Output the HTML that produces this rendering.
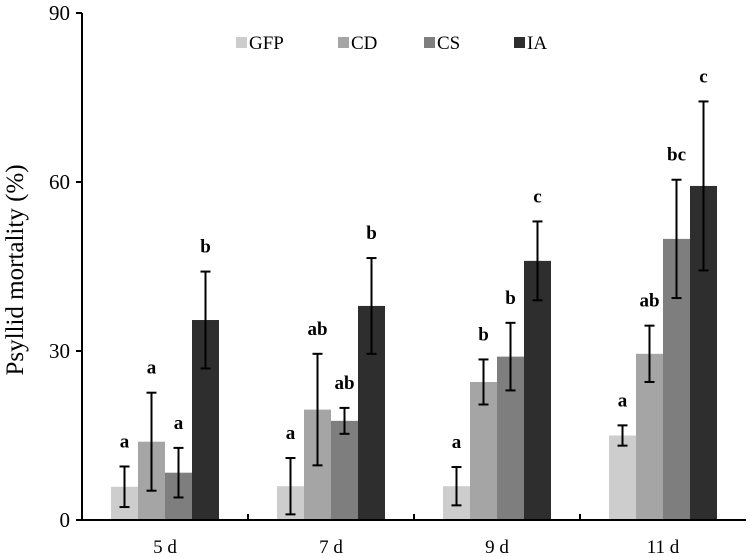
<!DOCTYPE html>
<html><head><meta charset="utf-8"><style>
html,body{margin:0;padding:0;background:#fff;width:750px;height:557px;overflow:hidden}
svg text{font-family:"Liberation Serif",serif;fill:#000}
</style></head><body>
<svg id="chart" width="750" height="557"></svg>
<script>
const categories = ["5 d","7 d","9 d","11 d"];
const seriesNames = ["GFP","CD","CS","IA"];
const seriesColors = ["#cdcdcd","#a5a5a5","#7e7e7e","#2e2e2e"];
const gfp = [5.9, 6.0, 6.0, 15.0];
const cd = [13.9, 19.6, 24.5, 29.5];
const cs = [8.4, 17.6, 29.0, 49.9];
const ia = [35.5, 38.0, 46.0, 59.3];
const errGfp = [3.6, 5.0, 3.4, 1.8];
const errCd = [8.7, 9.9, 4.0, 5.0];
const errCs = [4.4, 2.3, 6.0, 10.5];
const errIa = [8.6, 8.5, 7.0, 15.0];
const lblGfp = ["a","a","a","a"];
const lblCd = ["a","ab","b","ab"];
const lblCs = ["a","ab","b","bc"];
const lblIa = ["b","b","c","c"];
const yTicks = [0,30,60,90];

const NS="http://www.w3.org/2000/svg";
const svg=document.getElementById('chart');
const x0=82,x1=746,y0=520,yTop=13,yMax=90;
const y=v=>y0-(v/yMax)*(y0-yTop);
const gw=(x1-x0)/categories.length;
const bw=27;
const barX=(c,s)=>x0+gw*c+gw/2-2*bw+s*bw;
function mk(t,a){const e=document.createElementNS(NS,t);for(const k in a)e.setAttribute(k,a[k]);svg.appendChild(e);return e;}

const vals=[gfp,cd,cs,ia],errs=[errGfp,errCd,errCs,errIa],lbls=[lblGfp,lblCd,lblCs,lblIa];
for(let c=0;c<categories.length;c++){
  for(let s=0;s<4;s++){
    const v=vals[s][c],e=errs[s][c],bx=barX(c,s);
    const r=mk('rect',{x:bx,y:y(v),width:bw,height:y0-y(v),fill:seriesColors[s]});
    
    
    const cx=bx+bw/2;
    const g=mk('g',{stroke:'#000','stroke-width':2});
    
    
    [[cx,y(v+e),cx,y(v-e)],[cx-5,y(v+e),cx+5,y(v+e)],[cx-5,y(v-e),cx+5,y(v-e)]].forEach(l=>{
      const ln=document.createElementNS(NS,'line');ln.setAttribute('x1',l[0]);ln.setAttribute('y1',l[1]);ln.setAttribute('x2',l[2]);ln.setAttribute('y2',l[3]);g.appendChild(ln);});
    const t=mk('text',{x:cx,y:y(v+e)-19,'text-anchor':'middle','font-size':19,'font-weight':'bold'});
    t.textContent=lbls[s][c];
    
    
  }
  const tl=mk('text',{x:x0+gw*c+gw/2,y:553,'text-anchor':'middle','font-size':19});
  tl.textContent=categories[c];
  
  
  if(c>0){const tk=mk('line',{x1:x0+gw*c,x2:x0+gw*c,y1:y0,y2:y0-6,stroke:'#000','stroke-width':2});
    
    }
}
const ax=mk('line',{x1:x0,y1:yTop,x2:x0,y2:y0,stroke:'#000','stroke-width':2});


const bx2=mk('line',{x1:x0-6,y1:y0,x2:x1,y2:y0,stroke:'#000','stroke-width':2});


yTicks.forEach(v=>{
  const tk=mk('line',{x1:x0-6,x2:x0,y1:y(v),y2:y(v),stroke:'#000','stroke-width':2});
  
  
  const t=mk('text',{x:x0-12,y:y(v)+7,'text-anchor':'end','font-size':21});
  t.textContent=v;
  
  
});
const yt=mk('text',{x:0,y:0,'text-anchor':'middle','font-size':25,transform:'translate(23,270) rotate(-90)'});
yt.textContent='Psyllid mortality (%)';


const legX=[236,338,424,514];
seriesNames.forEach((n,i)=>{
  const r=mk('rect',{x:legX[i],y:37,width:11,height:11,fill:seriesColors[i]});
  
  
  const t=mk('text',{x:legX[i]+13,y:49,'font-size':19});
  t.textContent=n;
  
  
});
</script>
</body></html>
